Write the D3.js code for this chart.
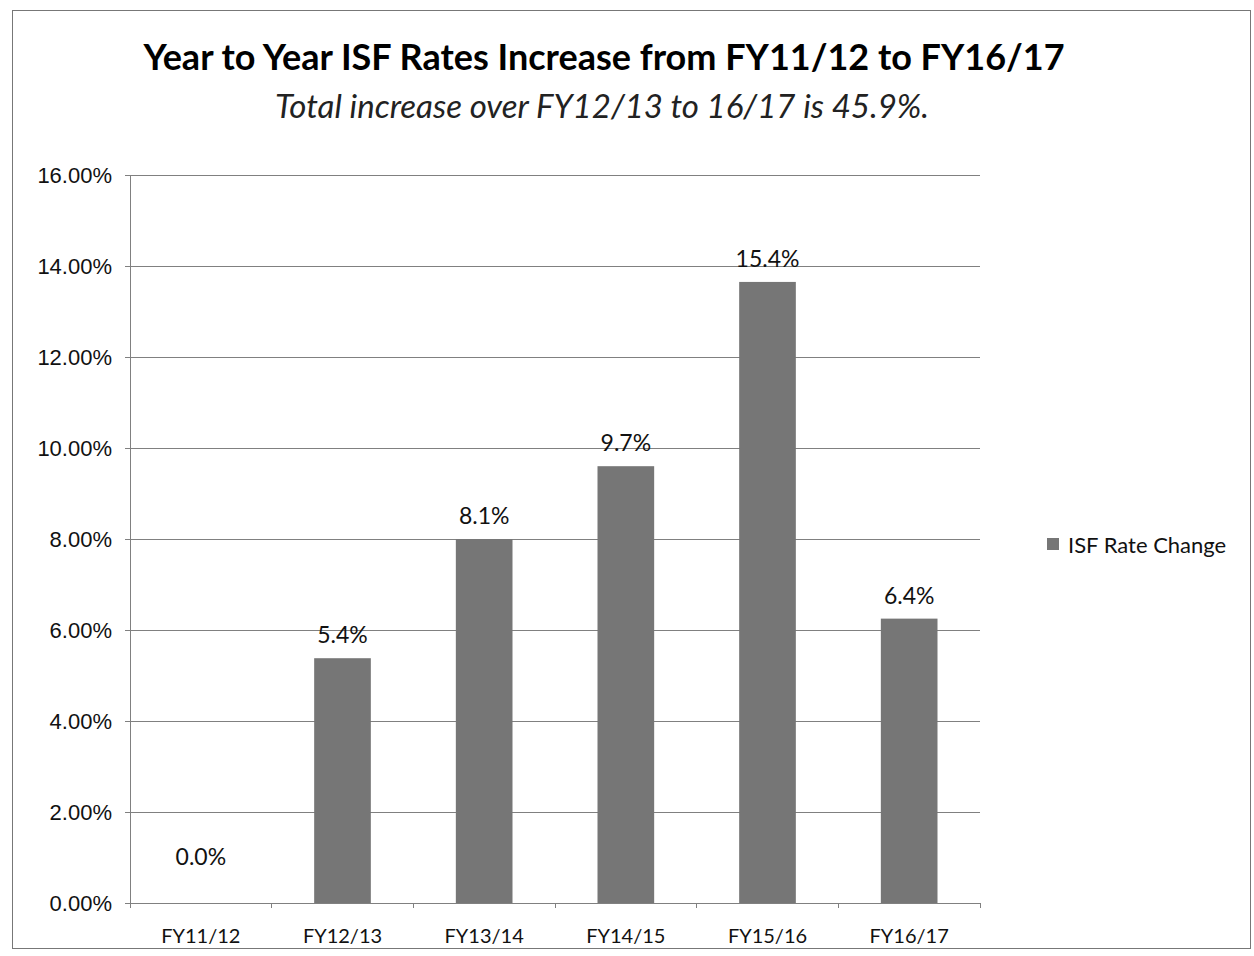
<!DOCTYPE html>
<html>
<head>
    <meta charset="utf-8">
    <title>ISF Rates</title>
    <style>
        body {
            margin: 0;
            background: #ffffff;
        }
        svg {
            display: block;
            font-family: Lato, "Open Sans", sans-serif;
        }
        .grid line {
            stroke: #808080;
            stroke-width: 1px;
        }
        .axis path, .axis line {
            stroke: #808080;
            shape-rendering: crispEdges;
        }
        .axis text {
            fill: #111;
        }
    </style>
    <script src="https://cdn.jsdelivr.net/npm/d3@7"></script>
</head>
<body>
<script>
    // data
    const years = ['FY11/12', 'FY12/13', 'FY13/14', 'FY14/15', 'FY15/16', 'FY16/17'];
    const barValues = [0, 5.38, 8.0, 9.6, 13.65, 6.25];
    const barLabels = ['0.0%', '5.4%', '8.1%', '9.7%', '15.4%', '6.4%'];
    const yTicks = [0, 2, 4, 6, 8, 10, 12, 14, 16];
    const seriesName = 'ISF Rate Change';

    const width = 1254,
        height = 956;
    const plot = {left: 130, right: 980, top: 175, bottom: 903};
    const barColor = '#767676';

    const svg = d3.select('body').append('svg')
        .attr('width', width)
        .attr('height', height);

    // outer frame
    svg.append('rect')
        .attr('x', 12.5)
        .attr('y', 10.5)
        .attr('width', 1238)
        .attr('height', 938)
        .attr('fill', 'none')
        .attr('stroke', '#777')
        .attr('stroke-width', 1);

    const x = d3.scaleBand()
        .domain(years)
        .range([plot.left, plot.right])
        .paddingInner(0.6)
        .paddingOuter(0.3);

    const y = d3.scaleLinear()
        .domain([0, 16])
        .range([plot.bottom, plot.top]);

    // gridlines
    svg.append('g')
        .attr('class', 'grid')
        .selectAll('line')
        .data(yTicks.slice(1))
        .enter().append('line')
        .attr('x1', plot.left)
        .attr('x2', plot.right)
        .attr('y1', d => Math.round(y(d)) + 0.5)
        .attr('y2', d => Math.round(y(d)) + 0.5);

    // y axis
    svg.append('g')
        .attr('class', 'axis y')
        .attr('transform', 'translate(' + plot.left + ',0)')
        .call(d3.axisLeft(y).tickValues(yTicks).tickSize(5).tickPadding(13)
            .tickFormat(d => d.toFixed(2) + '%'))
        .call(g => g.selectAll('text').attr('font-size', 22));

    // bars
    svg.append('g')
        .selectAll('rect')
        .data(barValues)
        .enter().append('rect')
        .attr('x', (d, i) => x(years[i]))
        .attr('y', d => y(d))
        .attr('width', x.bandwidth())
        .attr('height', d => y(0) - y(d))
        .attr('fill', barColor);

    // x axis (ticks between categories)
    const xAxis = svg.append('g')
        .attr('class', 'axis x')
        .attr('transform', 'translate(0,' + plot.bottom + ')');
    xAxis.append('line')
        .attr('x1', plot.left)
        .attr('x2', plot.right);
    xAxis.selectAll('line.tick')
        .data(d3.range(years.length + 1))
        .enter().append('line')
        .attr('class', 'tick')
        .attr('x1', i => plot.left + i * x.step())
        .attr('x2', i => plot.left + i * x.step())
        .attr('y1', 0)
        .attr('y2', 5);
    xAxis.selectAll('text')
        .data(years)
        .enter().append('text')
        .attr('x', d => x(d) + x.bandwidth() / 2)
        .attr('y', 40)
        .attr('text-anchor', 'middle')
        .attr('font-size', 20)
        .text(d => d);

    // value labels
    svg.append('g')
        .selectAll('text')
        .data(barValues)
        .enter().append('text')
        .attr('x', (d, i) => x(years[i]) + x.bandwidth() / 2)
        .attr('y', d => y(d) - (d === 0 ? 38 : 15))
        .attr('text-anchor', 'middle')
        .attr('font-size', 23)
        .attr('fill', '#111')
        .text((d, i) => barLabels[i]);

    // titles
    svg.append('text')
        .attr('x', 604)
        .attr('y', 70)
        .attr('text-anchor', 'middle')
        .attr('font-size', 36)
        .attr('font-weight', 'bold')
        .attr('fill', '#000')
        .text('Year to Year ISF Rates Increase from FY11/12 to FY16/17');

    svg.append('text')
        .attr('x', 602)
        .attr('y', 118)
        .attr('text-anchor', 'middle')
        .attr('font-size', 33)
        .attr('font-style', 'italic')
        .attr('fill', '#222')
        .text('Total increase over FY12/13 to 16/17 is 45.9%.');

    // legend
    const legend = svg.append('g')
        .attr('transform', 'translate(1047,538)');
    legend.append('rect')
        .attr('width', 12)
        .attr('height', 12)
        .attr('fill', barColor);
    legend.append('text')
        .attr('x', 21)
        .attr('y', 15)
        .attr('font-size', 22)
        .attr('fill', '#111')
        .text(seriesName);
</script>
</body>
</html>
